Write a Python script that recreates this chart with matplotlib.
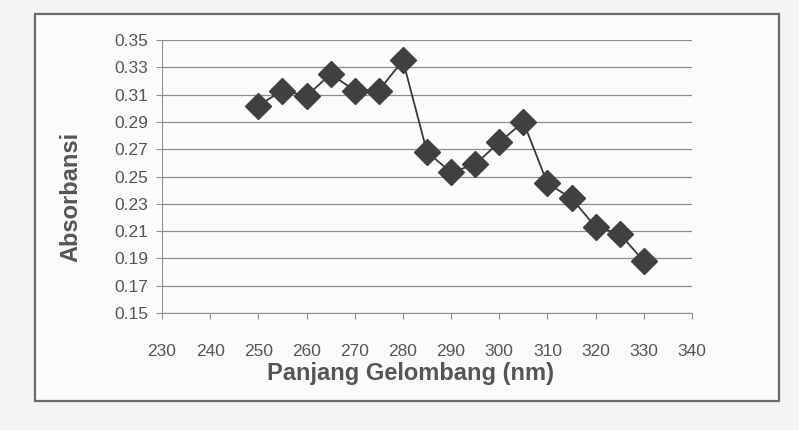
import numpy as np
import matplotlib.pyplot as plt
from matplotlib.patches import Rectangle

plt.rcParams['font.family'] = ['Liberation Sans', 'DejaVu Sans']

# data
wavelength = [250, 255, 260, 265, 270, 275, 280, 285, 290, 295, 300, 305, 310, 315, 320, 325, 330]
absorbance = [0.302, 0.313, 0.309, 0.325, 0.313, 0.313, 0.335, 0.268, 0.253, 0.259, 0.275, 0.290,
              0.245, 0.234, 0.213, 0.208, 0.188]
xticks = np.arange(230, 341, 10)
yticks = np.arange(0.15, 0.351, 0.02)

txt = '#555555'
fig = plt.figure(figsize=(7.99, 4.30), dpi=100)
fig.patch.set_facecolor('#f3f4f1')
fig.patches.append(Rectangle((35 / 799, 1 - 401 / 430), 744 / 799, 387 / 430,
                             transform=fig.transFigure, facecolor='#fbfcfa',
                             edgecolor='#6a6a6a', lw=1.6, zorder=-1))

ax = fig.add_axes([162 / 799, 1 - 313 / 430, 530 / 799, 273 / 430])
ax.set_facecolor('none')
ax.plot(wavelength, absorbance, color='#3a3a3a', lw=1.3, marker='D', markersize=13,
        markerfacecolor='#404040', markeredgecolor='#404040', zorder=3)

ax.set_xlim(230, 340)
ax.set_ylim(0.15, 0.35)
ax.set_xticks(xticks)
ax.set_yticks(yticks)
ax.set_yticklabels([f'{v:.2f}' for v in yticks])
ax.grid(axis='y', color='#8c8c8c', lw=0.9)
ax.set_axisbelow(True)
for s in ['top', 'right']:
    ax.spines[s].set_visible(False)
for s in ['left', 'bottom']:
    ax.spines[s].set_color('#909090')
ax.tick_params(axis='x', direction='out', length=4, pad=18, colors='#909090', labelcolor=txt, labelsize=12.5)
ax.tick_params(axis='y', direction='out', length=4, pad=6, colors='#909090', labelcolor=txt, labelsize=12.5)
ax.set_xlabel('Panjang Gelombang (nm)', fontsize=17, fontweight='bold', color=txt)
ax.set_ylabel('Absorbansi', fontsize=17, fontweight='bold', color=txt)
ax.xaxis.set_label_coords(0.468, -0.18)
ax.yaxis.set_label_coords(-0.15, 0.425)

fig.savefig('out.png', dpi=100)
